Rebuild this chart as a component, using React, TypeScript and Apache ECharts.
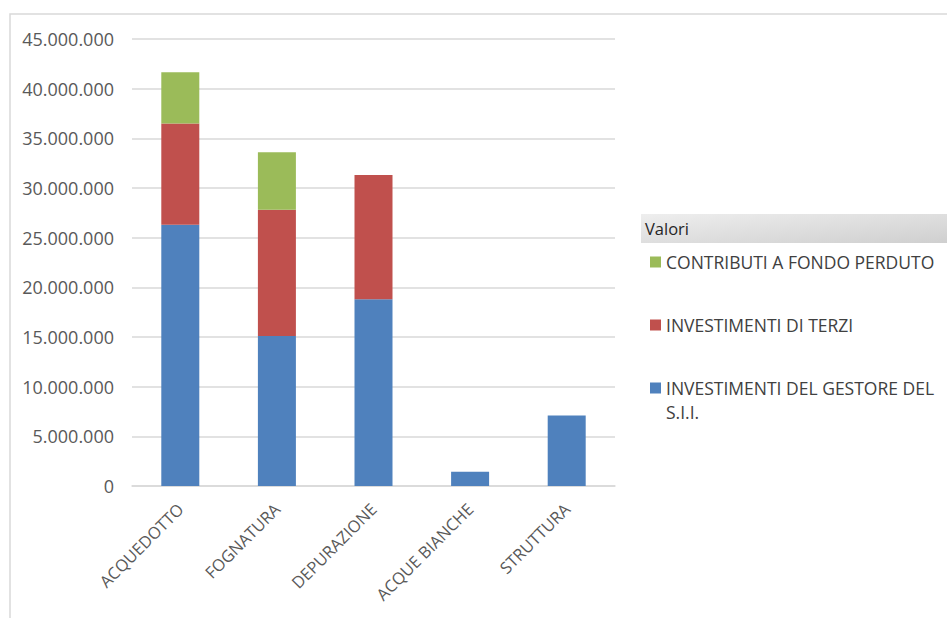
import React, { useEffect, useRef } from "react";
import * as echarts from "echarts";

const categories = ["ACQUEDOTTO", "FOGNATURA", "DEPURAZIONE", "ACQUE BIANCHE", "STRUTTURA"];
const gestore = [26300000, 15100000, 18800000, 1440000, 7100000];
const terzi = [10200000, 12700000, 12500000, 0, 0];
const contributi = [5150000, 5800000, 0, 0, 0];
const seriesNames = [
  "INVESTIMENTI DEL GESTORE DEL S.I.I.",
  "INVESTIMENTI DI TERZI",
  "CONTRIBUTI A FONDO PERDUTO",
];
const colors = ["#4f81bd", "#c0504d", "#9bbb59"];
const FONT = "Open Sans";

const fmt = (v: number) => String(Math.round(v)).replace(/\B(?=(\d{3})+(?!\d))/g, ".");

export default function App() {
  const ref = useRef<HTMLDivElement>(null);
  useEffect(() => {
    if (!ref.current) return;
    const chart = echarts.init(ref.current, null, { renderer: "svg" });
    const data = [gestore, terzi, contributi];
    chart.setOption({
      animation: false,
      backgroundColor: "#ffffff",
      grid: { left: 132, right: 332, top: 39, bottom: 132 },
      xAxis: {
        type: "category",
        data: categories,
        axisLine: { lineStyle: { color: "#d9d9d9", width: 1.5 } },
        axisTick: { show: false },
        axisLabel: {
          rotate: 45,
          margin: 20,
          color: "#595959",
          fontFamily: FONT,
          fontSize: 16.5,
          interval: 0,
        },
      },
      yAxis: {
        type: "value",
        min: 0,
        max: 45000000,
        interval: 5000000,
        axisLine: { show: false },
        axisTick: { show: false },
        splitLine: { lineStyle: { color: "#d9d9d9", width: 1.5 } },
        axisLabel: {
          margin: 18,
          color: "#595959",
          fontFamily: FONT,
          fontSize: 18,
          formatter: (v: number) => fmt(v),
        },
      },
      legend: {
        orient: "vertical",
        left: 645,
        top: 248,
        itemWidth: 11,
        itemHeight: 11,
        itemGap: 45,
        icon: "rect",
        data: [seriesNames[2], seriesNames[1], seriesNames[0]],
        formatter: (name: string) =>
          name === seriesNames[0] ? "INVESTIMENTI DEL GESTORE DEL" : name,
        textStyle: {
          color: "#404040",
          fontFamily: FONT,
          fontSize: 17.5,
          lineHeight: 17,
        },
      },
      graphic: [
        {
          type: "rect",
          shape: { x: 10, y: 14, width: 960, height: 640 },
          style: { fill: "none", stroke: "#d9d9d9", lineWidth: 1.5 },
          silent: true,
        },
        {
          type: "rect",
          shape: { x: 641, y: 214, width: 310, height: 29 },
          style: {
            fill: new echarts.graphic.LinearGradient(0, 0, 1, 1, [
              { offset: 0, color: "#eeeeee" },
              { offset: 1, color: "#cfcfcf" },
            ]),
          },
          silent: true,
        },
        {
          type: "text",
          x: 645,
          y: 228.5,
          style: {
            text: "Valori",
            fill: "#262626",
            font: `16.5px "${FONT}"`,
            textVerticalAlign: "middle",
          },
          silent: true,
        },
        {
          type: "text",
          x: 666,
          y: 412,
          style: {
            text: "S.I.I.",
            fill: "#404040",
            font: `17.5px "${FONT}"`,
            textVerticalAlign: "middle",
          },
          silent: true,
        },
      ],
      series: data.map((d, i) => ({
        name: seriesNames[i],
        type: "bar",
        stack: "total",
        barWidth: 38,
        data: d,
        itemStyle: { color: colors[i] },
      })),
    });
    return () => chart.dispose();
  }, []);
  return (
    <div
      ref={ref}
      style={{ position: "fixed", left: 0, top: 0, width: 947, height: 618 }}
    />
  );
}
